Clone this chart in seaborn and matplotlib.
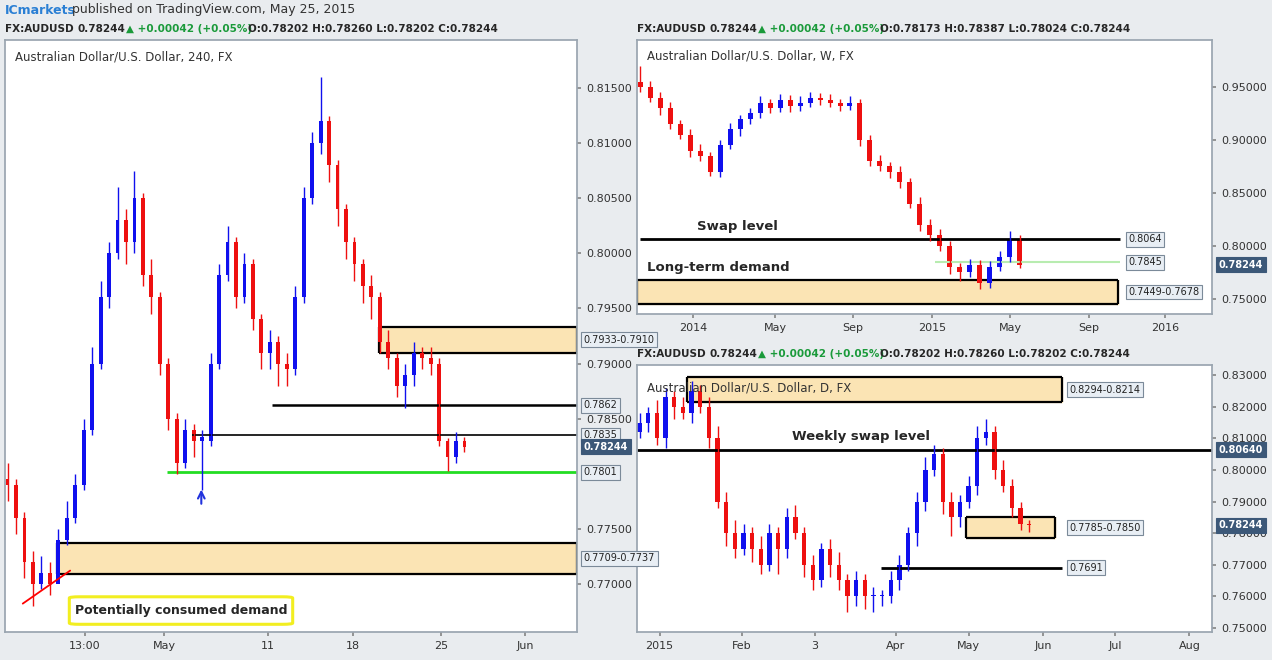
import matplotlib
matplotlib.use("Agg")
import matplotlib.pyplot as plt
import matplotlib.transforms as mtrans
from matplotlib.patches import FancyBboxPatch
import numpy as np
import pandas as pd
import seaborn as sns

# ---- data ----
# 4H candles (one candle ~ half a trading day)
h4_open0 = 0.7795
h4_close = [0.7790, 0.7760, 0.7720, 0.7700, 0.7710, 0.7700, 0.7740, 0.7760, 0.7790, 0.7840,
            0.7900, 0.7960, 0.8000, 0.8030, 0.8010, 0.8050, 0.7980, 0.7960, 0.7900, 0.7850,
            0.7810, 0.7840, 0.7830, 0.7830, 0.7900, 0.7980, 0.8010, 0.7960, 0.7990, 0.7940,
            0.7910, 0.7920, 0.7900, 0.7895, 0.7960, 0.8050, 0.8100, 0.8120, 0.8080, 0.8040,
            0.8010, 0.7990, 0.7970, 0.7960, 0.7920, 0.7905, 0.7880, 0.7890, 0.7910, 0.7905,
            0.7900, 0.7830, 0.7815, 0.7830, 0.78244]
h4_high = [0.7810, 0.7795, 0.7765, 0.7730, 0.7725, 0.7720, 0.7750, 0.7775, 0.7800, 0.7850,
           0.7915, 0.7975, 0.8010, 0.8060, 0.8040, 0.8075, 0.8055, 0.7995, 0.7965, 0.7905,
           0.7855, 0.7850, 0.7845, 0.7840, 0.7910, 0.7990, 0.8025, 0.8015, 0.8000, 0.7995,
           0.7945, 0.7930, 0.7925, 0.7910, 0.7970, 0.8060, 0.8110, 0.8160, 0.8125, 0.8085,
           0.8045, 0.8015, 0.7995, 0.7980, 0.7965, 0.7930, 0.7910, 0.7900, 0.7920, 0.7915,
           0.7915, 0.7905, 0.7832, 0.7838, 0.7833]
h4_low = [0.7775, 0.7745, 0.7705, 0.7680, 0.7695, 0.7690, 0.7705, 0.7735, 0.7755, 0.7785,
          0.7835, 0.7895, 0.7950, 0.7995, 0.7990, 0.8000, 0.7970, 0.7945, 0.7890, 0.7840,
          0.7800, 0.7805, 0.7815, 0.7785, 0.7825, 0.7895, 0.7975, 0.7950, 0.7955, 0.7930,
          0.7895, 0.7895, 0.7880, 0.7880, 0.7890, 0.7955, 0.8045, 0.8090, 0.8065, 0.8025,
          0.7995, 0.7975, 0.7955, 0.7940, 0.7910, 0.7895, 0.7870, 0.7860, 0.7880, 0.7895,
          0.7890, 0.7825, 0.7802, 0.7810, 0.7820]
h4_tick_pos = [9.1, 18.5, 30.8, 40.8, 51.2, 61.2]
h4_tick_lab = ["13:00", "May", "11", "18", "25", "Jun"]
h4_yticks = [0.770, 0.775, 0.785, 0.790, 0.795, 0.800, 0.805, 0.810, 0.815]

# weekly candles (one candle ~ two weeks)
wk_open0 = 0.955
wk_close = [0.950, 0.940, 0.930, 0.915, 0.905, 0.890, 0.885, 0.870, 0.895, 0.910,
            0.920, 0.925, 0.935, 0.930, 0.938, 0.932, 0.935, 0.940, 0.938, 0.935,
            0.932, 0.935, 0.900, 0.880, 0.875, 0.870, 0.860, 0.840, 0.820, 0.810,
            0.800, 0.780, 0.775, 0.782, 0.765, 0.780, 0.790, 0.806, 0.78244]
wk_up_wick = [0.015, 0.006, 0.005, 0.006, 0.004, 0.005, 0.006, 0.004, 0.005, 0.006,
              0.004, 0.005, 0.006, 0.004, 0.005, 0.004, 0.006, 0.005, 0.004, 0.005,
              0.004, 0.006, 0.004, 0.005, 0.006, 0.004, 0.005, 0.004, 0.006, 0.005,
              0.006, 0.005, 0.004, 0.006, 0.005, 0.006, 0.005, 0.008, 0.004]
wk_dn_wick = [0.005, 0.004, 0.006, 0.005, 0.004, 0.006, 0.005, 0.004, 0.005, 0.004,
              0.006, 0.005, 0.004, 0.005, 0.004, 0.006, 0.005, 0.004, 0.005, 0.004,
              0.005, 0.004, 0.006, 0.005, 0.004, 0.006, 0.005, 0.004, 0.006, 0.005,
              0.005, 0.006, 0.008, 0.004, 0.006, 0.005, 0.004, 0.005, 0.003]
wk_tick_pos = [5.3, 13.5, 21.3, 29.2, 37.0, 44.9, 52.5]
wk_tick_lab = ["2014", "May", "Sep", "2015", "May", "Sep", "2016"]
wk_yticks = [0.75, 0.80, 0.85, 0.90, 0.95]

# daily candles (one candle ~ two sessions)
d_open0 = 0.812
d_close = [0.815, 0.818, 0.810, 0.823, 0.820, 0.818, 0.825, 0.820, 0.810, 0.790,
           0.780, 0.775, 0.780, 0.775, 0.770, 0.780, 0.775, 0.785, 0.780, 0.770,
           0.765, 0.775, 0.770, 0.765, 0.760, 0.765, 0.760, 0.760, 0.760, 0.765,
           0.770, 0.780, 0.790, 0.800, 0.805, 0.790, 0.785, 0.790, 0.795, 0.810,
           0.812, 0.800, 0.795, 0.788, 0.783, 0.78244]
d_up_wick = [0.003, 0.002, 0.004, 0.003, 0.002, 0.003, 0.003, 0.002, 0.003, 0.004,
             0.003, 0.004, 0.003, 0.002, 0.004, 0.003, 0.002, 0.003, 0.004, 0.002,
             0.003, 0.002, 0.003, 0.004, 0.002, 0.003, 0.002, 0.003, 0.002, 0.003,
             0.003, 0.002, 0.003, 0.004, 0.003, 0.002, 0.003, 0.002, 0.003, 0.004,
             0.004, 0.002, 0.003, 0.002, 0.002, 0.001]
d_dn_wick = [0.002, 0.003, 0.002, 0.003, 0.004, 0.002, 0.003, 0.002, 0.003, 0.002,
             0.004, 0.003, 0.002, 0.004, 0.003, 0.002, 0.008, 0.003, 0.002, 0.004,
             0.003, 0.002, 0.004, 0.003, 0.005, 0.003, 0.004, 0.005, 0.003, 0.002,
             0.003, 0.002, 0.004, 0.003, 0.002, 0.004, 0.006, 0.003, 0.002, 0.003,
             0.002, 0.003, 0.002, 0.003, 0.002, 0.002]
d_tick_pos = [2.3, 11.8, 20.2, 29.6, 38.0, 46.6, 54.9, 63.5]
d_tick_lab = ["2015", "Feb", "3", "Apr", "May", "Jun", "Jul", "Aug"]
d_yticks = [0.75, 0.76, 0.77, 0.78, 0.79, 0.80, 0.81, 0.82, 0.83]

last_price = 0.78244
UP, DOWN = "#1010ee", "#ee1010"
ZONE = "#fbe4b4"
BOXFC, BOXEC = "#e8eef4", "#7b8a99"

sns.set_theme(style="ticks")
plt.rcParams["font.family"] = ["DejaVu Sans"]

W, H = 1272, 660
fig = plt.figure(figsize=(W / 100, H / 100), dpi=100, facecolor="#e9ecef")


def px_ax(x0, y0, x1, y1):
    return fig.add_axes([x0 / W, 1 - y1 / H, (x1 - x0) / W, (y1 - y0) / H])


def candles(ax, open0, close, high, low, width=0.5):
    close = np.array(close)
    opens = np.concatenate([[open0], close[:-1]])
    df = pd.DataFrame({"i": np.arange(len(close)), "o": opens, "c": close,
                       "h": high, "l": low})
    df["col"] = np.where(df.c >= df.o, UP, DOWN)
    ax.vlines(df.i, df.l, df.h, colors=df.col, lw=1)
    ax.bar(df.i, (df.c - df.o).abs().clip(lower=0.0003), bottom=df[["o", "c"]].min(axis=1),
           width=width, color=df.col, linewidth=0)


def style(ax, xlim, ylim, yticks, fmt, xpos, xlab):
    ax.set_facecolor("white")
    ax.set_xlim(*xlim)
    ax.set_ylim(*ylim)
    ax.yaxis.tick_right()
    ax.set_yticks(yticks)
    ax.set_yticklabels([fmt.format(v) for v in yticks], fontsize=8, color="#333")
    ax.set_xticks(xpos)
    ax.set_xticklabels(xlab, fontsize=8, color="#333")
    ax.tick_params(length=3, color="#888")
    for s in ax.spines.values():
        s.set_color("#9aa5b0")


def tag(ax, y, text, x=1.012, dark=False, inside=False):
    if inside:
        tr = ax.transData
    else:
        tr = mtrans.blended_transform_factory(ax.transAxes, ax.transData)
    fc, ec, tc = (("#3c5878", "#3c5878", "white") if dark else (BOXFC, BOXEC, "#222"))
    ax.text(x, y, text, transform=tr, fontsize=7, color=tc, va="center", ha="left",
            fontweight="bold" if dark else "normal", clip_on=False, zorder=10,
            bbox=dict(boxstyle="square,pad=0.25", fc=fc, ec=ec, lw=0.8))


def zone(ax, x0, x1, lo, hi):
    ax.fill_between([x0, x1], lo, hi, color=ZONE, zorder=0)
    ax.hlines([lo, hi], x0, x1, colors="black", lw=1.6, zorder=1)
    ax.vlines([x0, x1], lo, hi, colors="black", lw=1.6, zorder=1)


# ---- 4H panel ----
ax1 = px_ax(5, 40, 577, 632)
ax1.set_zorder(5)
style(ax1, (-0.3, 67.3), (0.7656, 0.8194), h4_yticks, "{:.5f}", h4_tick_pos, h4_tick_lab)
zone(ax1, 43.9, 67.3, 0.7910, 0.7933)
zone(ax1, 5.9, 67.3, 0.7709, 0.7737)
ax1.hlines(0.7862, 31.2, 67.3, colors="black", lw=1.8)
ax1.hlines(0.7835, 21.8, 67.3, colors="black", lw=1.2)
ax1.hlines(0.7801, 18.8, 67.3, colors="#22dd22", lw=2)
candles(ax1, h4_open0, h4_close, h4_high, h4_low, width=0.45)
for y, t in [(0.79215, "0.7933-0.7910"), (0.7862, "0.7862"), (0.7835, "0.7835"),
             (0.7801, "0.7801"), (0.7723, "0.7709-0.7737")]:
    tag(ax1, y, t)
tag(ax1, last_price, "0.78244", dark=True)
ax1.plot([1.8, 7.4], [0.76818, 0.77118], color="red", lw=1.3)
ax1.add_patch(FancyBboxPatch((7.3, 0.7663), 26.4, 0.0025, boxstyle="round,pad=0,rounding_size=1.2",
                             mutation_aspect=0.0001, fc="white", ec="#f2ee20", lw=2.2, zorder=5))
ax1.text(20.5, 0.76755, "Potentially consumed demand", ha="center", va="center",
         fontsize=9, fontweight="bold", zorder=6)
ax1.annotate("", xy=(22.9, 0.7788), xytext=(22.9, 0.7770),
             arrowprops=dict(arrowstyle="->", color="#2233dd", lw=1.5))
ax1.text(0.018, 0.965, "Australian Dollar/U.S. Dollar, 240, FX", transform=ax1.transAxes,
         fontsize=8.5, color="#333")

# ---- weekly panel ----
ax2 = px_ax(637, 40, 1212, 314)
style(ax2, (-0.3, 57.2), (0.7358, 0.9943), wk_yticks, "{:.5f}", wk_tick_pos, wk_tick_lab)
wc = np.array(wk_close)
wo = np.concatenate([[wk_open0], wc[:-1]])
zone(ax2, -0.3, 47.8, 0.7449, 0.7678)
ax2.hlines(0.8064, 0, 48, colors="black", lw=2)
ax2.hlines(0.7845, 29.5, 48, colors="#b8ecb0", lw=1.5)
candles(ax2, wk_open0, wk_close, np.maximum(wo, wc) + np.array(wk_up_wick),
        np.minimum(wo, wc) - np.array(wk_dn_wick))
tag(ax2, 0.8064, "0.8064", x=48.8, inside=True)
tag(ax2, 0.7845, "0.7845", x=48.8, inside=True)
tag(ax2, 0.7565, "0.7449-0.7678", x=48.8, inside=True)
tag(ax2, last_price, "0.78244", dark=True)
ax2.text(5.7, 0.8179, "Swap level", fontsize=9.5, fontweight="bold", va="center")
ax2.text(0.7, 0.7792, "Long-term demand", fontsize=9.5, fontweight="bold", va="center")
ax2.text(0.018, 0.93, "Australian Dollar/U.S. Dollar, W, FX", transform=ax2.transAxes,
         fontsize=8.5, color="#333")

# ---- daily panel ----
ax3 = px_ax(637, 365, 1212, 632)
style(ax3, (-0.3, 66.1), (0.7487, 0.8332), d_yticks, "{:.5f}", d_tick_pos, d_tick_lab)
dc = np.array(d_close)
do = np.concatenate([[d_open0], dc[:-1]])
zone(ax3, 5.5, 48.8, 0.8214, 0.8294)
zone(ax3, 37.7, 48.0, 0.7785, 0.7850)
ax3.hlines(0.8064, -0.3, 66.1, colors="black", lw=2)
ax3.hlines(0.7691, 27.9, 48.8, colors="black", lw=2)
candles(ax3, d_open0, d_close, np.maximum(do, dc) + np.array(d_up_wick),
        np.minimum(do, dc) - np.array(d_dn_wick))
tag(ax3, 0.8254, "0.8294-0.8214", x=49.6, inside=True)
tag(ax3, 0.78175, "0.7785-0.7850", x=49.6, inside=True)
tag(ax3, 0.7691, "0.7691", x=49.6, inside=True)
tag(ax3, 0.8064, "0.80640", dark=True)
tag(ax3, last_price, "0.78244", dark=True)
ax3.text(17.6, 0.8107, "Weekly swap level", fontsize=9.5, fontweight="bold", va="center")
ax3.text(0.018, 0.90, "Australian Dollar/U.S. Dollar, D, FX", transform=ax3.transAxes,
         fontsize=8.5, color="#333")

# ---- header texts ----
fig.text(5 / W, 1 - 10 / H, "ICmarkets", color="#2a7fd4", fontsize=9, fontweight="bold", va="center")
fig.text(72 / W, 1 - 10 / H, "published on TradingView.com, May 25, 2015", color="#333",
         fontsize=9, va="center")


def header(x, y, o, h, l):
    kw = dict(fontsize=7.5, fontweight="bold", va="center")
    fig.text(x / W, 1 - y / H, "FX:AUDUSD", **kw)
    fig.text((x + 72) / W, 1 - y / H, "0.78244", **kw)
    fig.text((x + 121) / W, 1 - y / H, "▲ +0.00042 (+0.05%)", color="#1a9a3a", **kw)
    fig.text((x + 243) / W, 1 - y / H, f"O:{o} H:{h} L:{l} C:0.78244", **kw)


header(5, 29, "0.78202", "0.78260", "0.78202")
header(637, 29, "0.78173", "0.78387", "0.78024")
header(637, 354, "0.78202", "0.78260", "0.78202")

fig.savefig("out.png", dpi=100, facecolor=fig.get_facecolor())
